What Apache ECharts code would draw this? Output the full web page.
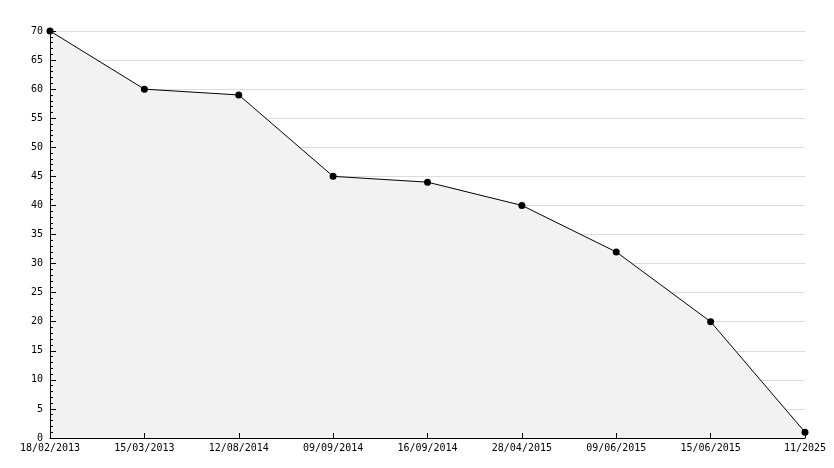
<!DOCTYPE html>
<html><head><meta charset="utf-8">
<script src="https://cdn.jsdelivr.net/npm/echarts@6/dist/echarts.min.js"></script>
<style>html,body{margin:0;padding:0;background:#fff}#c{width:834px;height:468px}</style>
</head><body><div id="c"></div>
<script>
const categories = ["18/02/2013","15/03/2013","12/08/2014","09/09/2014","16/09/2014","28/04/2015","09/06/2015","15/06/2015","11/2025"];
const values = [70, 60, 59, 45, 44, 40, 32, 20, 1];
const chart = echarts.init(document.getElementById('c'), null, {renderer:'canvas'});
chart.setOption({
  animation:false,
  backgroundColor:'#ffffff',
  grid:{left:50,right:29,top:31,bottom:30,containLabel:false},
  xAxis:{type:'category',data:categories,boundaryGap:false,z:10,
    axisLine:{lineStyle:{color:'#000',width:1}},
    axisTick:{inside:true,length:5,lineStyle:{color:'#000'}},
    axisLabel:{color:'#000',fontFamily:'DejaVu Sans Mono',fontSize:10,margin:5,showMinLabel:true,showMaxLabel:true,interval:0},
    splitLine:{show:false}},
  yAxis:[
    {type:'value',min:0,max:70,interval:5,z:0,position:'left',
     axisLine:{show:false},axisTick:{show:false},axisLabel:{show:false},
     splitLine:{show:true,lineStyle:{color:'#dcdcdc',width:1}}},
    {type:'value',min:0,max:70,interval:5,z:10,position:'left',offset:0,
     axisLine:{show:true,lineStyle:{color:'#000',width:1}},
     axisTick:{show:true,inside:true,length:6,lineStyle:{color:'#000'}},
     minorTick:{show:true,splitNumber:5,length:3,lineStyle:{color:'#000'}},
     axisLabel:{color:'#000',fontFamily:'DejaVu Sans Mono',fontSize:10,margin:7},
     splitLine:{show:false}}
  ],
  series:[{type:'line',data:values,z:2,yAxisIndex:0,
    symbol:'circle',symbolSize:7,
    itemStyle:{color:'#000'},
    lineStyle:{color:'#000',width:1},
    areaStyle:{color:'#f2f2f2',opacity:1}}]
});
</script></body></html>
